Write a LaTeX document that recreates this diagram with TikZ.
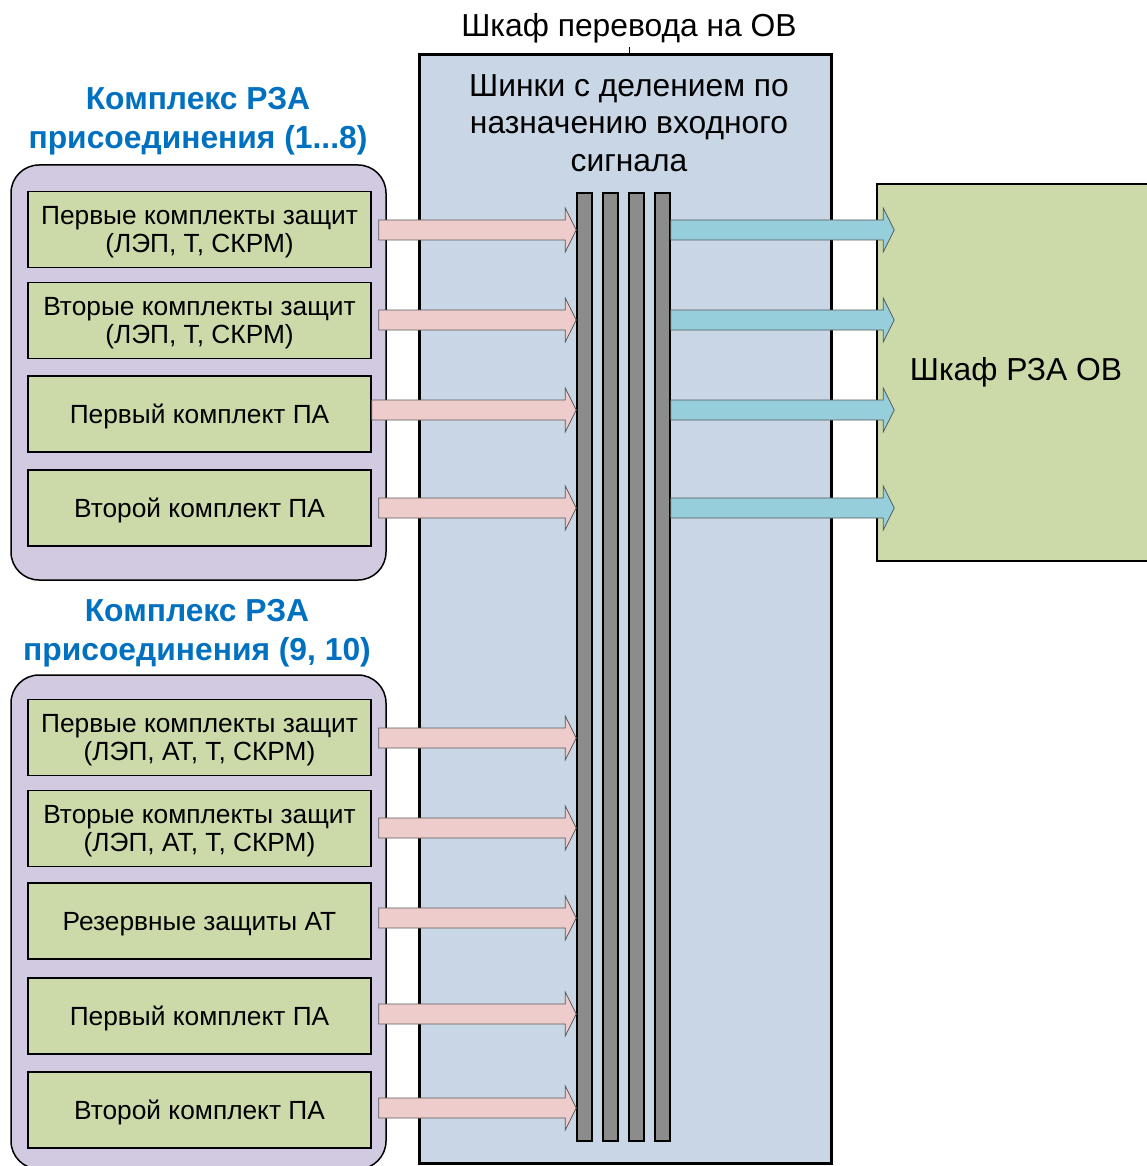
\documentclass[tikz,border=0pt]{standalone}
\usepackage{fontspec}
\setmainfont{Liberation Sans}
\usetikzlibrary{calc}
\definecolor{cabblue}{HTML}{C9D6E6}
\definecolor{lilac}{HTML}{D2CAE0}
\definecolor{boxgreen}{HTML}{CCDAAA}
\definecolor{pinkarr}{HTML}{EECCCC}
\definecolor{cyanarr}{HTML}{96CEDC}
\definecolor{bargray}{HTML}{8C8C8C}
\definecolor{titleblue}{HTML}{0070C0}
\newcommand\blockarrow[3]{%
  \draw[fill=#1, draw=black!65, line width=0.8pt, line join=miter]
    ($(#2)+(0,-10)$) -- ($(#3)+(-11,-10)$) -- ($(#3)+(-11,-22)$) -- (#3)
    -- ($(#3)+(-11,22)$) -- ($(#3)+(-11,10)$) -- ($(#2)+(0,10)$) -- cycle;}
\begin{document}
\begin{tikzpicture}[x=1pt,y=-1pt,
  group/.style={draw=black, line width=1.5pt, fill=lilac, rounded corners=28pt, minimum width=375pt, inner sep=0pt},
  unit/.style={draw=black, line width=1.5pt, fill=boxgreen, minimum width=343pt, minimum height=76pt, inner sep=0pt, text depth=0pt, align=center, font=\fontsize{26.3}{28.5}\selectfont},
  bar/.style={draw=black, line width=1.5pt, fill=bargray, minimum width=15pt, minimum height=948pt, inner sep=0pt},
  glabel/.style={text=titleblue, font=\bfseries\fontsize{31.8}{39}\selectfont, align=center},
  bigtext/.style={font=\fontsize{31.8}{37.5}\selectfont, align=center}
]
\useasboundingbox (0,0) rectangle (1146,1166);
% cabinet
\node[draw=black, line width=3pt, fill=cabblue, minimum width=412pt, minimum height=1108pt, inner sep=0pt] (cab) at (625,609) {};
\node[bigtext] (cabtitle) at (629,28.5) {Шкаф перевода на ОВ};
\draw[line width=0.6pt] (629,47) -- (cab.north -| 629,0);
\node[bigtext] (cabtext) at (629,123) {Шинки с делением по\\назначению входного\\сигнала};
% bars
\node[bar] (b1) at (584.5,667) {};
\node[bar] (b2) at (610.5,667) {};
\node[bar] (b3) at (636.5,667) {};
\node[bar] (b4) at (662.5,667) {};
% right cabinet
\node[draw=black, line width=1.5pt, fill=boxgreen, minimum width=273pt, minimum height=377pt, inner sep=0pt] (ov) at (1013.5,372.5) {};
\node[font=\fontsize{31.8}{36}\selectfont] (ovtext) at (1016,372) {Шкаф РЗА ОВ};
% group 1
\node[glabel] (g1label) at (198,121.5) {Комплекс РЗА\\присоединения (1...8)};
\node[group, minimum height=415pt] (g1) at (198.5,372.5) {};
\node[unit] (a1) at (199.5,229.5) {Первые комплекты защит\\(ЛЭП, Т, СКРМ)};
\node[unit] (a2) at (199.5,320.5) {Вторые комплекты защит\\(ЛЭП, Т, СКРМ)};
\node[unit] (a3) at (199.5,414) {Первый комплект ПА};
\node[unit] (a4) at (199.5,508) {Второй комплект ПА};
% group 2
\node[glabel] (g2label) at (197,633.5) {Комплекс РЗА\\присоединения (9, 10)};
\node[group, minimum height=494pt] (g2) at (198.5,922) {};
\node[unit] (c1) at (199.5,737.5) {Первые комплекты защит\\(ЛЭП, АТ, Т, СКРМ)};
\node[unit] (c2) at (199.5,828.5) {Вторые комплекты защит\\(ЛЭП, АТ, Т, СКРМ)};
\node[unit] (c3) at (199.5,921) {Резервные защиты АТ};
\node[unit] (c4) at (199.5,1016) {Первый комплект ПА};
\node[unit] (c5) at (199.5,1110) {Второй комплект ПА};
% arrows into bars
\coordinate (s1) at ($(a1.east)+(7,0.5)$); \coordinate (e1) at (b1.west |- s1);
\coordinate (s2) at ($(a2.east)+(7,-0.5)$); \coordinate (e2) at (b1.west |- s2);
\coordinate (s3) at ($(a3.east)+(0,-4)$); \coordinate (e3) at (b1.west |- s3);
\coordinate (s4) at ($(a4.east)+(7,0)$); \coordinate (e4) at (b1.west |- s4);
\blockarrow{pinkarr}{s1}{e1}
\blockarrow{pinkarr}{s2}{e2}
\blockarrow{pinkarr}{s3}{e3}
\blockarrow{pinkarr}{s4}{e4}
\coordinate (t1) at ($(c1.east)+(7,0.5)$); \coordinate (f1) at (b1.west |- t1);
\coordinate (t2) at ($(c2.east)+(7,-0.5)$); \coordinate (f2) at (b1.west |- t2);
\coordinate (t3) at ($(c3.east)+(7,-3)$); \coordinate (f3) at (b1.west |- t3);
\coordinate (t4) at ($(c4.east)+(7,-2)$); \coordinate (f4) at (b1.west |- t4);
\coordinate (t5) at ($(c5.east)+(7,-2)$); \coordinate (f5) at (b1.west |- t5);
\blockarrow{pinkarr}{t1}{f1}
\blockarrow{pinkarr}{t2}{f2}
\blockarrow{pinkarr}{t3}{f3}
\blockarrow{pinkarr}{t4}{f4}
\blockarrow{pinkarr}{t5}{f5}
% arrows out to OV cabinet
\coordinate (o1) at (b4.east |- e1); \coordinate (p1) at ($(ov.west |- e1)+(18,0)$);
\coordinate (o2) at (b4.east |- e2); \coordinate (p2) at ($(ov.west |- e2)+(18,0)$);
\coordinate (o3) at (b4.east |- e3); \coordinate (p3) at ($(ov.west |- e3)+(18,0)$);
\coordinate (o4) at (b4.east |- e4); \coordinate (p4) at ($(ov.west |- e4)+(18,0)$);
\blockarrow{cyanarr}{o1}{p1}
\blockarrow{cyanarr}{o2}{p2}
\blockarrow{cyanarr}{o3}{p3}
\blockarrow{cyanarr}{o4}{p4}
\end{tikzpicture}
\end{document}
